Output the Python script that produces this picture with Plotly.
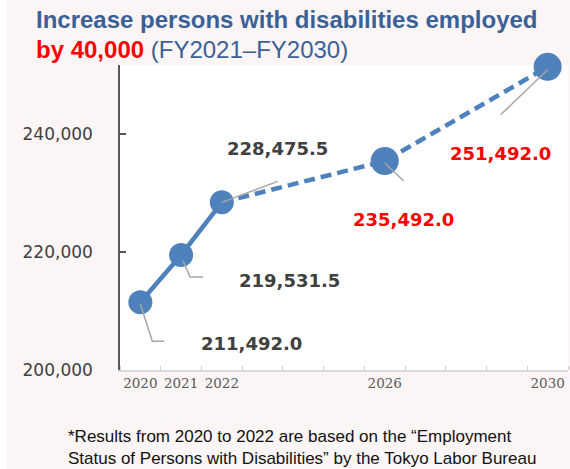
import plotly.graph_objects as go

years = [2020, 2021, 2022, 2026, 2030]
values = [211492.0, 219531.5, 228475.5, 235492.0, 251492.0]
labels = ["211,492.0", "219,531.5", "228,475.5", "235,492.0", "251,492.0"]
label_colors = ["#404040", "#404040", "#404040", "#ff0000", "#ff0000"]
marker_sizes = [24, 24, 24, 28, 28]
x_tick_vals = [2020, 2021, 2022, 2026, 2030]
x_tick_text = ["2020", "2021", "2022", "2026", "2030"]
y_tick_vals = [200000, 220000, 240000]
y_tick_text = ["200,000", "220,000", "240,000"]

# pixel offsets of labels and leader lines relative to each point (dx right, dy up)
label_shift = [(111, -41), (108, -25), (56, 54), (19, -58), (-47, -87)]
leader_paths = [
    "M0,-2 L12,-39 L24,-39",
    "M2,-6 L9,-22 L22,-22",
    "M0,0 L56,21",
    "M0,-2 L19,-20",
    "M0,-3 L-47,-48",
]

BLUE = "#4f81bd"
W, H = 570, 469
ML, MR, MT, MB = 120, 2, 65, 99
PW, PH = W - ML - MR, H - MT - MB

def px(x):
    return (x - ML) / PW

def py(y):
    return (H - MB - y) / PH

fig = go.Figure()
fig.add_trace(go.Scatter(x=years[:3], y=values[:3], mode="lines",
                         line=dict(color=BLUE, width=4.5), hoverinfo="skip", cliponaxis=False))
fig.add_trace(go.Scatter(x=years[2:], y=values[2:], mode="lines",
                         line=dict(color=BLUE, width=4.5, dash="11px,6px"), hoverinfo="skip", cliponaxis=False))
fig.add_trace(go.Scatter(x=years, y=values, mode="markers",
                         marker=dict(color=BLUE, size=marker_sizes, opacity=1, line=dict(width=0)),
                         cliponaxis=False))

for yr, v, p in zip(years, values, leader_paths):
    fig.add_shape(type="path", xref="x", yref="y", xsizemode="pixel", ysizemode="pixel",
                  xanchor=yr, yanchor=v, path=p, layer="above",
                  line=dict(color="#a6a6a6", width=1.5))

for yr, v, t, c, (dx, dy) in zip(years, values, labels, label_colors, label_shift):
    fig.add_annotation(x=yr, y=v, xref="x", yref="y", text="<b>" + t + "</b>", showarrow=False,
                       xshift=dx, yshift=dy, font=dict(family="DejaVu Sans", size=18, color=c))

TITLE_BLUE = "#3a6196"
fig.add_annotation(xref="paper", yref="paper", x=px(34), y=py(19), xanchor="left", yanchor="middle",
                   text="<b>Increase persons with disabilities employed</b>", showarrow=False,
                   font=dict(family="Liberation Sans", size=24, color=TITLE_BLUE))
fig.add_annotation(xref="paper", yref="paper", x=px(34), y=py(50), xanchor="left", yanchor="middle",
                   text="<b><span style='color:#ff0000'>by 40,000</span></b> (FY2021–FY2030)", showarrow=False,
                   font=dict(family="Liberation Sans", size=24, color=TITLE_BLUE))
fig.add_annotation(xref="paper", yref="paper", x=px(66), y=py(447), xanchor="left", yanchor="middle",
                   align="left",
                   text="*Results from 2020 to 2022 are based on the “Employment<br>Status of Persons with Disabilities” by the Tokyo Labor Bureau",
                   showarrow=False, font=dict(family="Liberation Sans", size=17, color="#111111"))

# white strip on left edge
fig.add_shape(type="rect", xref="paper", yref="paper", x0=px(0), x1=px(7), y0=py(H), y1=py(0),
              fillcolor="white", line=dict(width=0), layer="below")

fig.update_layout(
    width=W, height=H,
    margin=dict(l=ML, r=MR, t=MT, b=MB),
    paper_bgcolor="#fcf5f5", plot_bgcolor="white",
    showlegend=False,
    xaxis=dict(range=[2019.5, 2030.5], tickvals=x_tick_vals, ticktext=x_tick_text, ticks="",
               showgrid=False, zeroline=False, showline=True, linecolor="#d9d9d9", linewidth=1.5,
               tickfont=dict(family="DejaVu Serif", size=13.5, color="#595959"),
               minor=dict(tick0=2019.5, dtick=1, ticks="inside", ticklen=4, tickcolor="#d0d0d0",
                          tickwidth=1, showgrid=False)),
    yaxis=dict(range=[200000, 251800], tickvals=y_tick_vals, ticktext=y_tick_text,
               ticks="inside", ticklen=6, tickcolor="#595959", tickwidth=1.5,
               showgrid=False, zeroline=False, showline=True, linecolor="#595959", linewidth=1.5,
               ticklabelstandoff=22,
               tickfont=dict(family="DejaVu Sans", size=17, color="#404040")),
)

fig.write_html("out.html", config={"displayModeBar": False},
               post_script="document.body.style.margin='0';document.body.style.overflow='hidden';")
